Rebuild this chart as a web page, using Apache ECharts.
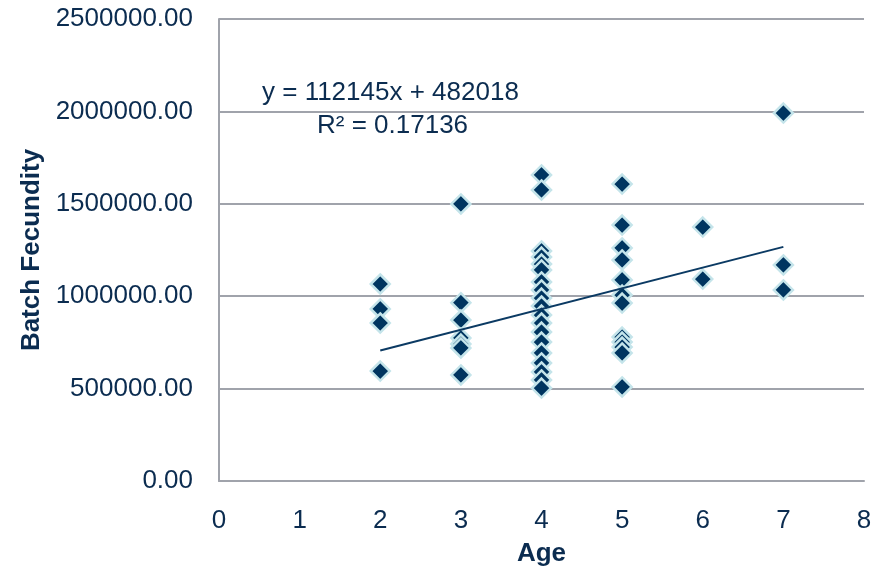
<!DOCTYPE html>
<html>
<head>
<meta charset="utf-8">
<script src="https://cdn.jsdelivr.net/npm/echarts@6/dist/echarts.min.js"></script>
<style>
html,body{margin:0;padding:0;background:#fff;}
#chart{width:891px;height:573px;}
</style>
</head>
<body>
<div id="chart"></div>
<script>
// Data
var age2 = [1066000, 931000, 855000, 595000];
var age3 = [1499000, 965000, 871000, 774000, 741000, 720000, 574000];
var age4 = [1656000, 1575000, 1245000, 1212000, 1174000, 1142000, 1077000, 1034000, 990000, 947000, 898000, 855000, 806000, 752000, 693000, 639000, 590000, 547000, 503000];
var age5 = [1607000, 1385000, 1261000, 1196000, 1088000, 1006000, 963000, 779000, 752000, 725000, 693000, 509000];
var age6 = [1374000, 1093000];
var age7 = [1991000, 1169000, 1034000];
var ages = [2, 3, 4, 5, 6, 7];
var fecundity = [age2, age3, age4, age5, age6, age7];
var trendSlope = 112145;
var trendIntercept = 482018;
var trendX = [2, 7];
var yTicks = [0, 500000, 1000000, 1500000, 2000000, 2500000];
var xTicks = [0, 1, 2, 3, 4, 5, 6, 7, 8];
var eqText = 'y = 112145x + 482018';
var r2Text = 'R² = 0.17136';

var points = [];
for (var i = 0; i < ages.length; i++) {
  for (var j = 0; j < fecundity[i].length; j++) points.push([ages[i], fecundity[i][j]]);
}
var trend = trendX.map(function (x) { return [x, trendSlope * x + trendIntercept]; });

var textColor = '#0b2c50';
var font = 'Liberation Sans, Arial, sans-serif';
var chart = echarts.init(document.getElementById('chart'), null, {renderer: 'canvas'});
chart.setOption({
  animation: false,
  backgroundColor: '#ffffff',
  grid: {left: 219, right: 27, top: 19, bottom: 92, containLabel: false},
  xAxis: {
    type: 'value', min: xTicks[0], max: xTicks[xTicks.length - 1], interval: 1,
    name: 'Age', nameLocation: 'middle', nameGap: 60,
    nameTextStyle: {color: textColor, fontSize: 26, fontWeight: 'bold', fontFamily: font},
    axisLine: {show: true, lineStyle: {color: '#a0a3ab', width: 2}},
    axisTick: {show: false},
    splitLine: {show: false},
    axisLabel: {color: textColor, fontSize: 26, fontFamily: font, margin: 27}
  },
  yAxis: {
    type: 'value', min: yTicks[0], max: yTicks[yTicks.length - 1], interval: 500000,
    name: 'Batch Fecundity', nameLocation: 'middle', nameGap: 172, nameRotate: 90,
    nameTextStyle: {color: textColor, fontSize: 26, fontWeight: 'bold', fontFamily: font},
    axisLine: {show: true, lineStyle: {color: '#a0a3ab', width: 2}},
    axisTick: {show: false},
    splitLine: {show: true, lineStyle: {color: '#a0a3ab', width: 2}},
    axisLabel: {color: textColor, fontSize: 26, fontFamily: font, margin: 26,
      formatter: function (v) { return v.toFixed(2); }}
  },
  graphic: [
    {type: 'text', left: 262, top: 80, style: {text: eqText, fill: textColor, font: '26px ' + font}},
    {type: 'text', left: 317, top: 113, style: {text: r2Text, fill: textColor, font: '26px ' + font}}
  ],
  series: [
    {
      type: 'scatter', data: points, symbol: 'diamond', symbolSize: 19,
      itemStyle: {color: '#003560', borderColor: '#c4e4ea', borderWidth: 2.5, opacity: 1},
      z: 3
    },
    {
      type: 'line', data: trend, symbol: 'none', showSymbol: false,
      lineStyle: {color: '#0b3a63', width: 2}, z: 4
    }
  ]
});
</script>
</body>
</html>
